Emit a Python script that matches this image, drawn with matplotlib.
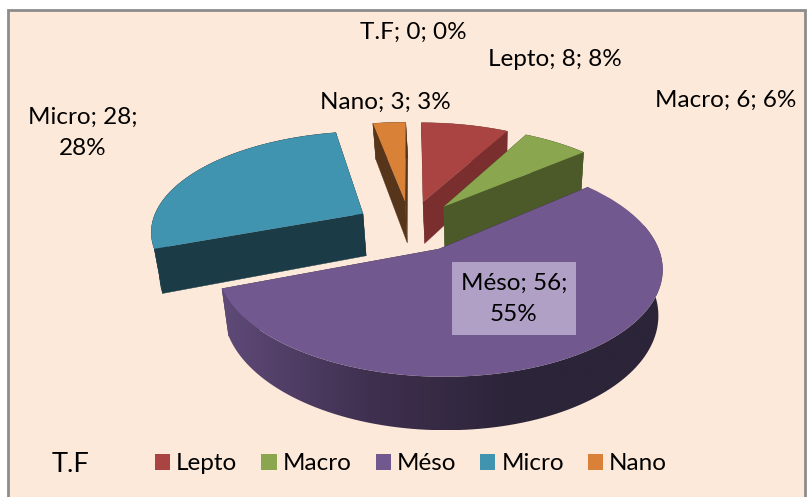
import numpy as np
import matplotlib
matplotlib.use("Agg")
import matplotlib.pyplot as plt
from matplotlib.patches import Rectangle, Polygon
from matplotlib.transforms import Transform
from matplotlib.colors import LinearSegmentedColormap

categories = ["T.F", "Lepto", "Macro", "Méso", "Micro", "Nano"]
values = [0, 8, 6, 56, 28, 3]
top_colors = ["#4BACC6", "#A94442", "#8AA64E", "#71588F", "#4094AF", "#DA8138"]
wall_colors = ["#1B3B47", "#7A2E2E", "#4C5A2A", "#3F3050", "#1B3B47", "#57351A"]
explode_amount = 0.26
legend_title = "T.F"

plt.rcParams["font.family"] = ["Lato", "DejaVu Sans"]
FS = 17.5

CX, CY, RX, RY, K = 410.0, 226.0, 212.0, 99.0, 0.16
DEPTH, SHRINK, BOTTOM_SHIFT = 43.0, 0.975, 2.0


def project(xy, bottom=False):
    xy = np.asarray(xy, dtype=float)
    x, y = xy[..., 0], xy[..., 1]
    w = 1 + K * y
    s = SHRINK if bottom else 1.0
    px = CX + s * RX * x / w + (BOTTOM_SHIFT if bottom else 0.0)
    py = CY - RY * y / w + (DEPTH / w if bottom else 0.0)
    return np.stack([px, py], axis=-1)


class Perspective(Transform):
    input_dims = 2
    output_dims = 2
    is_affine = False

    def transform_non_affine(self, values):
        return project(values)


fig = plt.figure(figsize=(8.07, 4.97), dpi=100, facecolor="white")
ax = fig.add_axes([0, 0, 1, 1])

wedges, _ = ax.pie(values, colors=top_colors, startangle=90, counterclock=False,
                   explode=[explode_amount] * len(values))
ax.set_aspect("auto")
ax.axis("off")

ax.add_patch(Rectangle((8, 10), 797, 500, facecolor="#FDE9D9", edgecolor="#8C8C8C",
                       linewidth=2.0, zorder=0))

rim_cmap = LinearSegmentedColormap.from_list("rim", ["#5F4A78", "#3F3050", "#2C2438", "#2C2438"])

paint_order = ["Lepto", "Nano", "Micro", "Macro", "Méso"]
z = 1
for name in paint_order:
    i = categories.index(name)
    w = wedges[i]
    c = np.array(w.center)
    th = np.radians(np.linspace(w.theta1, w.theta2, 120))
    rim = c + np.column_stack([np.cos(th), np.sin(th)])
    col = wall_colors[i]
    for end in (rim[0], rim[-1]):
        pts = np.array([c, end])
        t, b = project(pts), project(pts, bottom=True)
        ax.fill(*np.vstack([t, b[::-1]]).T, color=col, lw=0.3, zorder=z)
    z += 1
    t, b = project(rim), project(rim, bottom=True)
    poly = np.vstack([t, b[::-1]])
    if name == "Méso":
        # only the part facing the viewer gets the shaded band
        near = rim[:, 1] < c[1] + 0.25
        poly = np.vstack([t[near], b[near][::-1]])
        clip = Polygon(poly, closed=True, transform=ax.transData, facecolor="none", edgecolor="none")
        ax.add_patch(clip)
        grad = np.linspace(0, 1, 256).reshape(1, -1)
        im = ax.imshow(grad, cmap=rim_cmap, extent=(poly[:, 0].min(), poly[:, 0].max(),
                                                    poly[:, 1].max(), poly[:, 1].min()),
                       aspect="auto", zorder=z)
        im.set_clip_path(clip)
    else:
        ax.fill(*poly.T, color=col, lw=0.3, zorder=z)
    z += 1
    w.set_transform(Perspective() + ax.transData)
    w.set_zorder(z)
    w.set_edgecolor("none")
    z += 1
wedges[0].set_visible(False)

ax.set_aspect("auto")
ax.set_xlim(0, 807)
ax.set_ylim(497, 0)

total = sum(values)
labels = [f"{n}; {v}; {round(100 * v / total)}%" for n, v in zip(categories, values)]
ax.text(413, 32, labels[0], ha="center", va="center", fontsize=FS, zorder=50)
ax.text(555, 59, labels[1], ha="center", va="center", fontsize=FS, zorder=50)
ax.text(726, 100, labels[2], ha="center", va="center", fontsize=FS, zorder=50)
ax.text(385, 102, labels[5], ha="center", va="center", fontsize=FS, zorder=50)
ax.text(83, 133, labels[4].replace("; 28%", ";\n28%"), ha="center", va="center",
        fontsize=FS, linespacing=1.6, zorder=50)
ax.add_patch(Rectangle((452, 262), 124, 73, facecolor="#B0A0C6", edgecolor="none", zorder=49))
ax.text(514, 299, labels[3].replace("; 55%", ";\n55%"), ha="center", va="center",
        fontsize=FS, linespacing=1.6, zorder=50)

ax.text(71, 465, legend_title, ha="center", va="center", fontsize=FS + 2, zorder=50)
ax.legend(wedges[1:], categories[1:], loc="center left", frameon=False, ncol=5,
          bbox_to_anchor=(155, 464), bbox_transform=ax.transData, fontsize=FS,
          handlelength=0.62, handleheight=0.66, handletextpad=0.25, columnspacing=0.99,
          borderpad=0, borderaxespad=0)

fig.savefig("out.png", dpi=100)
